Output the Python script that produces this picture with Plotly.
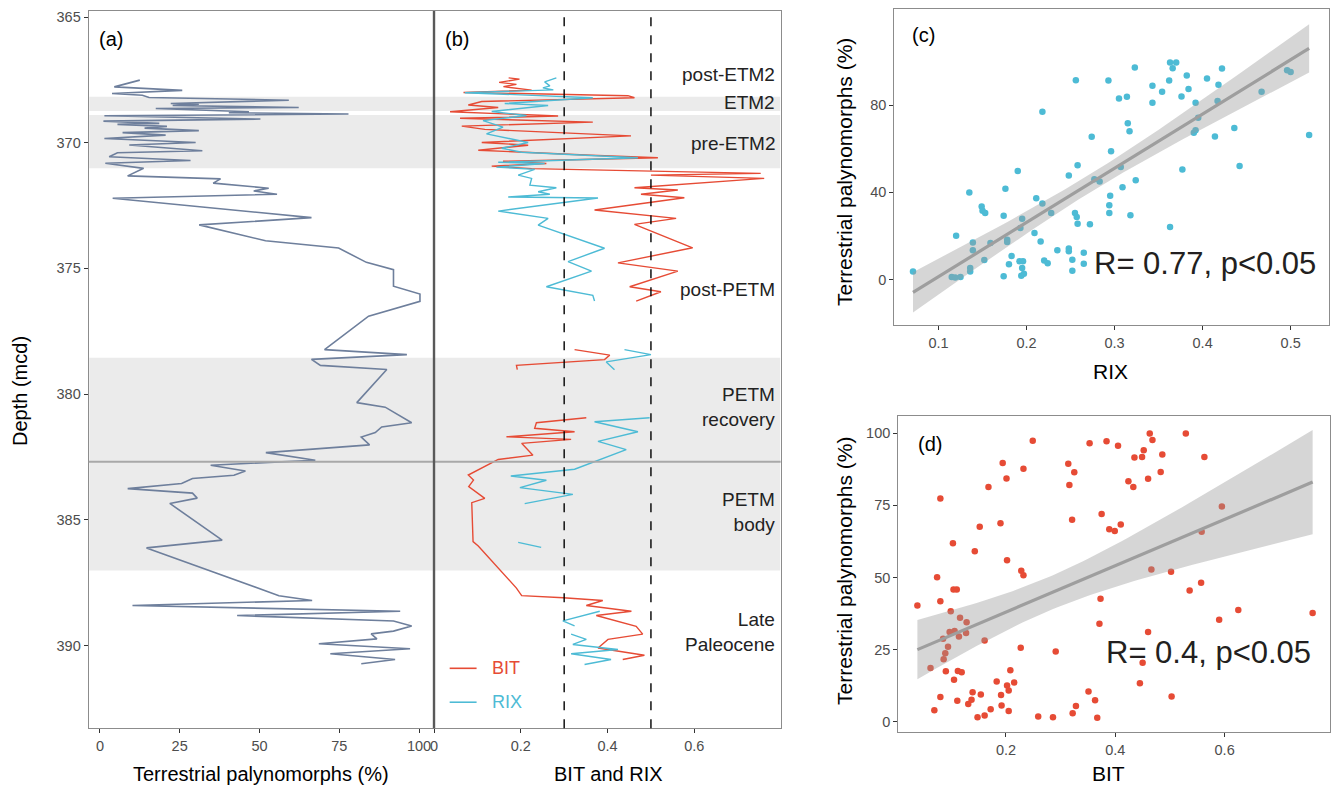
import numpy as np
import plotly.graph_objects as go

# ---------------- data ----------------
# Panel (a): terrestrial palynomorphs (%) vs depth (mcd)
depth_a = [367.51, 367.78, 367.92, 368.04, 368.11, 368.20, 368.31, 368.44, 368.47, 368.52,
           368.60, 368.64, 368.77, 368.81, 368.86, 368.93, 369.06, 369.14, 369.23, 369.27,
           369.35, 369.42, 369.52, 369.60, 369.70, 369.83, 369.99, 370.09, 370.32, 370.40,
           370.56, 370.71, 370.82, 371.02, 371.32, 371.44, 371.61, 371.81, 371.92, 372.05,
           372.21, 372.98, 373.27, 373.90, 374.19, 374.76, 375.05, 375.71, 376.02, 376.31,
           376.90, 378.23, 378.43, 378.62, 378.86, 379.02, 380.34, 380.52, 381.14, 381.31,
           381.53, 381.71, 382.02, 382.33, 382.63, 382.83, 383.06, 383.23, 383.36, 383.56,
           383.76, 383.94, 384.14, 384.35, 385.81, 386.12, 388.02, 388.21, 388.41, 388.64,
           388.81, 389.03, 389.23, 389.43, 389.54, 389.74, 389.93, 390.13, 390.33, 390.56,
           390.73]
palyno_a = [12.5, 4.5, 25.8, 3.8, 13.3, 15.4, 59.2, 22.2, 31.0, 22.8,
            62.3, 17.5, 46.7, 40.4, 77.9, 1.4, 50.3, 1.1, 18.6, 5.5,
            21.0, 14.0, 31.0, 7.1, 20.6, 1.4, 30.0, 9.2, 32.1, 5.5,
            2.9, 28.4, 1.7, 13.7, 8.7, 37.8, 35.5, 52.9, 48.2, 55.5,
            4.0, 66.3, 31.1, 51.9, 74.8, 83.5, 92.0, 92.0, 100.3, 100.3,
            84.2, 70.4, 96.2, 66.3, 69.1, 89.9, 80.5, 89.4, 97.7, 88.3,
            86.3, 81.9, 84.5, 52.0, 67.5, 34.7, 45.6, 42.0, 29.0, 25.6,
            8.7, 29.0, 30.5, 21.9, 38.3, 14.6, 56.1, 66.5, 10.2, 94.1,
            43.0, 92.0, 97.7, 92.0, 85.0, 86.8, 68.6, 97.2, 72.2, 92.5,
            81.9]

# Panel (b): BIT and RIX vs depth (None = gap)
bit_depth = [367.42, 367.47, 367.60, 367.68, 367.77, 367.91, 368.00, 368.13, 368.21, 368.36,
             368.50, 368.60, 368.77, 368.94, 369.03, 369.10, 369.18, 369.34, 369.47, 369.73,
             369.99, 370.10, 370.30, 370.50, 370.60, 370.74, 370.83, 370.93, 371.03, 371.22,
             371.29, 371.42, 371.79, 371.88, 372.05, 372.19, 372.68, 373.01, 373.25, 374.18,
             374.78, 375.11, 375.73, 375.93, 376.30, None, 378.23, 378.45, 378.63, 378.86,
             379.03, None, 380.94, 381.14, 381.36, 381.50, 381.70, 381.80, 381.96, 382.43,
             382.60, 383.22, 383.42, 383.68, 384.15, 384.32, 385.87, 386.04, 387.72, 388.02,
             388.10, 388.21, 388.41, 388.64, 388.81, 389.24, 389.55, 389.76, 390.10, 390.39,
             390.56]
bit_vals = [0.172, 0.197, 0.150, 0.190, 0.160, 0.225, 0.068, 0.447, 0.462, 0.110,
            0.079, 0.148, 0.037, 0.286, 0.060, 0.213, 0.366, 0.064, 0.117, 0.454,
            0.110, 0.217, 0.102, 0.362, 0.516, 0.159, 0.259, 0.133, 0.225, 0.753,
            0.500, 0.761, 0.462, 0.562, 0.477, 0.577, 0.370, 0.558, 0.462, 0.596,
            0.424, 0.562, 0.451, 0.523, 0.466, None, 0.324, 0.405, 0.393, 0.190,
            0.192, None, 0.351, 0.236, 0.232, 0.324, 0.167, 0.316, 0.202, 0.228,
            0.148, 0.079, 0.091, 0.080, 0.117, 0.087, 0.090, 0.102, 0.190, 0.202,
            0.298, 0.389, 0.351, 0.455, 0.374, 0.466, 0.481, 0.401, 0.378, 0.485,
            0.435]
rix_depth = [367.42, 367.58, 367.74, 367.82, 367.90, 368.01, 368.21, 368.31, 368.44, 368.52,
             368.76, 368.92, 369.12, 369.38, 369.65, 369.99, 370.22, 370.38, 370.60, 370.78,
             370.83, 370.97, 371.06, 371.29, 371.42, 371.69, 371.79, 371.95, 372.05, 372.16,
             372.20, 372.72, 373.01, 373.28, 374.20, 374.73, 375.11, 375.73, 376.07, 376.30,
             None, 378.23, 378.43, 378.72, 379.03, None, 380.94, 381.10, 381.50, 381.88,
             382.21, 382.60, 382.99, 383.26, 383.43, 383.72, 383.99, 384.36, None, 385.90,
             386.10, None, 388.64, 389.02, 389.22, None, 389.55, 389.76, 389.96, 390.16,
             390.33, 390.56, 390.76]
rix_vals = [0.282, 0.255, 0.267, 0.251, 0.275, 0.071, 0.366, 0.278, 0.163, 0.263,
            0.133, 0.213, 0.113, 0.159, 0.121, 0.217, 0.156, 0.202, 0.470, 0.148,
            0.255, 0.144, 0.232, 0.194, 0.225, 0.221, 0.282, 0.240, 0.267, 0.171,
            0.378, 0.148, 0.263, 0.240, 0.393, 0.309, 0.363, 0.259, 0.366, 0.370,
            None, 0.439, 0.500, 0.397, 0.416, None, 0.497, 0.370, 0.470, 0.378,
            0.443, 0.385, 0.324, 0.177, 0.259, 0.198, 0.320, 0.209, None, 0.194,
            0.247, None, 0.382, 0.297, 0.324, None, 0.316, 0.351, 0.320, 0.424,
            0.316, 0.408, 0.347]

# Panel (c): RIX vs terrestrial palynomorphs
rix_c = [0.071, 0.115, 0.119, 0.125, 0.120, 0.135, 0.136, 0.136, 0.139, 0.139,
         0.149, 0.150, 0.153, 0.152, 0.159, 0.174, 0.176, 0.174, 0.178, 0.178,
         0.180, 0.183, 0.190, 0.193, 0.195, 0.192, 0.196, 0.195, 0.194, 0.197,
         0.209, 0.211, 0.216, 0.218, 0.218, 0.220, 0.224, 0.228, 0.235, 0.248,
         0.248, 0.248, 0.252, 0.252, 0.255, 0.257, 0.258, 0.256, 0.258, 0.265,
         0.265, 0.272, 0.274, 0.277, 0.283, 0.293, 0.294, 0.294, 0.295, 0.296,
         0.305, 0.307, 0.309, 0.314, 0.315, 0.317, 0.318, 0.323, 0.324, 0.343,
         0.343, 0.354, 0.362, 0.363, 0.366, 0.370, 0.363, 0.376, 0.377, 0.382,
         0.384, 0.390, 0.392, 0.392, 0.395, 0.405, 0.414, 0.417, 0.418, 0.422,
         0.436, 0.442, 0.467, 0.496, 0.500, 0.521]
terr_c = [3.7, 1.2, 1.0, 1.2, 20.1, 39.9, 5.3, 3.7, 17.0, 13.4,
          33.5, 31.5, 30.5, 9.0, 16.8, 29.2, 41.6, 1.5, 18.3, 17.2,
          7.0, 10.8, 49.8, 23.6, 27.9, 8.4, 8.4, 5.3, 1.8, 2.7,
          21.3, 37.3, 17.4, 76.9, 34.9, 8.8, 7.5, 30.5, 13.4, 47.7,
          14.2, 13.0, 9.1, 4.1, 30.5, 28.7, 25.6, 91.4, 52.4, 12.3,
          7.3, 25.4, 65.5, 46.0, 44.9, 91.3, 34.1, 30.5, 38.4, 58.8,
          83.0, 51.6, 42.3, 83.8, 71.6, 68.0, 29.5, 97.2, 45.5, 88.8,
          81.1, 86.1, 91.3, 99.5, 96.9, 99.5, 24.1, 83.9, 50.4, 93.5,
          87.3, 67.3, 68.4, 81.1, 74.2, 92.2, 65.6, 81.8, 89.3, 96.7,
          69.5, 52.1, 86.1, 96.0, 95.2, 66.3]

# Panel (d): BIT vs terrestrial palynomorphs
bit_d = [0.038, 0.062, 0.069, 0.074, 0.080, 0.080, 0.080, 0.085, 0.086, 0.089,
         0.090, 0.094, 0.097, 0.099, 0.103, 0.104, 0.110, 0.105, 0.106, 0.111,
         0.112, 0.114, 0.116, 0.119, 0.127, 0.128, 0.131, 0.137, 0.139, 0.143,
         0.148, 0.152, 0.154, 0.161, 0.161, 0.168, 0.172, 0.183, 0.190, 0.191,
         0.192, 0.194, 0.201, 0.202, 0.202, 0.205, 0.205, 0.208, 0.215, 0.227,
         0.228, 0.232, 0.232, 0.249, 0.259, 0.286, 0.291, 0.314, 0.316, 0.321,
         0.322, 0.325, 0.328, 0.351, 0.353, 0.363, 0.367, 0.371, 0.373, 0.375,
         0.384, 0.389, 0.399, 0.405, 0.410, 0.424, 0.433, 0.435, 0.445, 0.449,
         0.452, 0.450, 0.460, 0.460, 0.463, 0.466, 0.468, 0.483, 0.486, 0.502,
         0.503, 0.529, 0.536, 0.557, 0.558, 0.563, 0.590, 0.595, 0.625, 0.761]
terr_d = [40.3, 18.7, 4.0, 50.1, 77.4, 41.8, 8.6, 28.8, 21.7, 23.8,
          17.5, 26.0, 31.1, 38.3, 61.9, 45.9, 45.9, 14.6, 31.5, 7.3,
          17.6, 29.6, 36.1, 17.2, 30.8, 34.5, 6.2, 7.7, 10.3, 59.1,
          1.6, 67.6, 9.5, 2.2, 28.2, 81.4, 4.4, 14.0, 68.8, 9.3,
          5.7, 89.7, 84.3, 56.0, 12.6, 10.9, 3.8, 17.9, 13.6, 25.7,
          52.4, 50.8, 87.7, 97.4, 1.9, 1.6, 24.4, 89.4, 82.1, 70.0,
          3.0, 86.5, 5.5, 10.5, 96.5, 7.5, 1.4, 34.0, 42.7, 72.0,
          97.2, 66.7, 66.1, 95.7, 68.4, 83.4, 81.4, 91.6, 13.4, 91.8,
          94.1, 20.5, 31.1, 84.2, 99.9, 52.8, 97.7, 86.6, 92.6, 52.0,
          8.8, 99.9, 45.5, 48.2, 65.9, 91.8, 35.4, 74.6, 38.8, 37.7]

# Interval bands (depth, mcd) and labels
bands = [(368.17, 368.74), (368.90, 371.02), (378.55, 387.02)]
petm_split = 382.69
interval_labels = ["post-ETM2", "ETM2", "pre-ETM2", "post-PETM", "PETM<br>recovery", "PETM<br>body", "Late<br>Paleocene"]
interval_label_depth = [367.29, 368.42, 370.05, 375.85, 380.51, 384.70, 389.45]
thresholds = [0.3, 0.5]

assert len(depth_a) == len(palyno_a)
assert len(bit_depth) == len(bit_vals)
assert len(rix_depth) == len(rix_vals)
assert len(rix_c) == len(terr_c)
assert len(bit_d) == len(terr_d)

# ---------------- style ----------------
W, H = 1338, 791
RED = "#E64B35"
BLUE = "#4DBBD5"
SLATE = "#6E7F9C"
FONT = "Arial, Liberation Sans, sans-serif"


def px(x):
    return x / W


def py(y):
    return 1 - y / H


def lm_fit(x, y):
    x = np.asarray(x, float)
    y = np.asarray(y, float)
    n = len(x)
    b, a = np.polyfit(x, y, 1)
    resid = y - (a + b * x)
    s = np.sqrt(np.sum(resid ** 2) / (n - 2))
    sxx = np.sum((x - x.mean()) ** 2)
    xg = np.linspace(x.min(), x.max(), 80)
    yg = a + b * xg
    se = s * np.sqrt(1.0 / n + (xg - x.mean()) ** 2 / sxx)
    t = 1.985
    return xg, yg, yg - t * se, yg + t * se


fig = go.Figure()

# Panel (a)
fig.add_trace(go.Scatter(x=palyno_a, y=depth_a, mode="lines", line=dict(color=SLATE, width=1.6),
                         xaxis="x", yaxis="y", showlegend=False))
# Panel (b)
fig.add_trace(go.Scatter(x=bit_vals, y=bit_depth, mode="lines", line=dict(color=RED, width=1.4),
                         connectgaps=False, xaxis="x2", yaxis="y2", showlegend=False))
fig.add_trace(go.Scatter(x=rix_vals, y=rix_depth, mode="lines", line=dict(color=BLUE, width=1.4),
                         connectgaps=False, xaxis="x2", yaxis="y2", showlegend=False))

# Panels (c) and (d): points, CI band, fit line
for xs, ys, col, xa, ya in [(rix_c, terr_c, BLUE, "x3", "y3"), (bit_d, terr_d, RED, "x4", "y4")]:
    fig.add_trace(go.Scatter(x=xs, y=ys, mode="markers", marker=dict(color=col, size=6.5),
                             xaxis=xa, yaxis=ya, showlegend=False))
    xg, yg, lo, hi = lm_fit(xs, ys)
    fig.add_trace(go.Scatter(x=np.concatenate([xg, xg[::-1]]), y=np.concatenate([hi, lo[::-1]]),
                             mode="lines", fill="toself", fillcolor="rgba(153,153,153,0.4)",
                             line=dict(width=0), xaxis=xa, yaxis=ya, showlegend=False, hoverinfo="skip"))
    fig.add_trace(go.Scatter(x=xg, y=yg, mode="lines", line=dict(color="#9E9E9E", width=3.2),
                             xaxis=xa, yaxis=ya, showlegend=False))

axis_common = dict(showgrid=False, zeroline=False, showline=True, mirror=True, linecolor="#8C8C8C",
                   linewidth=1.2, ticks="outside", ticklen=4, tickwidth=1, tickcolor="#333333",
                   tickfont=dict(family=FONT, size=14.5, color="#4D4D4D"))

ya_dom = [py(728), py(9)]
fig.update_layout(
    width=W, height=H, autosize=False, margin=dict(l=0, r=0, t=0, b=0),
    paper_bgcolor="white", plot_bgcolor="rgba(0,0,0,0)",
    xaxis=dict(domain=[px(85), px(431.3)], range=[-3.5, 104.7], tickvals=[0, 25, 50, 75, 100],
               anchor="y", **axis_common),
    yaxis=dict(domain=ya_dom, range=[393.29, 364.76], tickvals=[365, 370, 375, 380, 385, 390],
               anchor="x", **axis_common),
    xaxis2=dict(domain=[px(431.3), px(779)], range=[0, 0.799], tickvals=[0, 0.2, 0.4, 0.6],
                ticktext=["0", "0.2", "0.4", "0.6"], anchor="y2", **axis_common),
    yaxis2=dict(domain=ya_dom, matches="y", anchor="x2", showticklabels=False,
                **{k: v for k, v in axis_common.items() if k not in ("ticks",)}, ticks=""),
    xaxis3=dict(domain=[px(893), px(1329)], range=[0.0498, 0.5436], tickvals=[0.1, 0.2, 0.3, 0.4, 0.5],
                anchor="y3", **axis_common),
    yaxis3=dict(domain=[py(324), py(7.5)], range=[-20.9, 123.8], tickvals=[0, 40, 80],
                anchor="x3", **axis_common),
    xaxis4=dict(domain=[px(897), px(1330)], range=[0.0031, 0.7928], tickvals=[0.2, 0.4, 0.6],
                anchor="y4", **axis_common),
    yaxis4=dict(domain=[py(732), py(415)], range=[-3.56, 106], tickvals=[0, 25, 50, 75, 100],
                anchor="x4", **axis_common),
)

shapes = []
for d0, d1 in bands:
    shapes.append(dict(type="rect", xref="paper", yref="y", x0=px(85.5), x1=px(778.5), y0=d0, y1=d1,
                       fillcolor="#EBEBEB", line=dict(width=0), layer="below"))
shapes.append(dict(type="line", xref="paper", yref="y", x0=px(85), x1=px(779), y0=petm_split, y1=petm_split,
                   line=dict(color="#A8A8A8", width=2)))
for t in thresholds:
    shapes.append(dict(type="line", xref="x2", yref="y2 domain", x0=t, x1=t, y0=0, y1=1,
                       line=dict(color="black", width=1.4, dash="dash")))
shapes.append(dict(type="line", xref="paper", yref="paper", x0=px(431.3), x1=px(431.3), y0=py(728), y1=py(9),
                   line=dict(color="#595959", width=2.4)))
# legend keys in panel (b)
shapes.append(dict(type="line", xref="paper", yref="paper", x0=px(447), x1=px(474), y0=py(668), y1=py(668),
                   line=dict(color=RED, width=1.6)))
shapes.append(dict(type="line", xref="paper", yref="paper", x0=px(447), x1=px(474), y0=py(702), y1=py(702),
                   line=dict(color=BLUE, width=1.6)))
fig.update_layout(shapes=shapes)

anns = []


def ann(text, x, y, size=17, color="black", xanchor="center", yanchor="middle", angle=0):
    anns.append(dict(text=text, x=px(x), y=py(y), xref="paper", yref="paper", showarrow=False,
                     xanchor=xanchor, yanchor=yanchor, textangle=angle,
                     font=dict(family=FONT, size=size, color=color)))


ann("(a)", 93, 37, 20, xanchor="left")
ann("(b)", 440, 37, 20, xanchor="left")
ann("(c)", 909, 33, 20, xanchor="left")
ann("(d)", 915, 443, 20, xanchor="left")
for lab, d in zip(interval_labels, interval_label_depth):
    anns.append(dict(text=lab, x=px(775), y=d, xref="paper", yref="y", showarrow=False,
                     xanchor="right", yanchor="middle", align="right",
                     font=dict(family=FONT, size=19, color="#222222")))
ann("BIT", 487, 668, 18, RED, xanchor="left")
ann("RIX", 487, 702, 18, BLUE, xanchor="left")
ann("Depth (mcd)", 16, 390, 20, angle=-90)
ann("Terrestrial palynomorphs (%)", 258, 774, 20)
ann("BIT and RIX", 606, 774, 20)
ann("Terrestrial palynomorphs (%)", 843, 170, 21, angle=-90)
ann("RIX", 1110, 370, 21)
ann("Terrestrial palynomorphs (%)", 843, 570, 21, angle=-90)
ann("BIT", 1108, 773, 21)
ann("R= 0.77, p<0.05", 1318, 262, 31, "#231F20", xanchor="right")
ann("R= 0.4, p<0.05", 1313, 652, 31, "#231F20", xanchor="right")
fig.update_layout(annotations=anns)

fig.write_html("out.html", config={"displayModeBar": False},
               post_script="document.body.style.margin='0';document.body.style.overflow='hidden';")
